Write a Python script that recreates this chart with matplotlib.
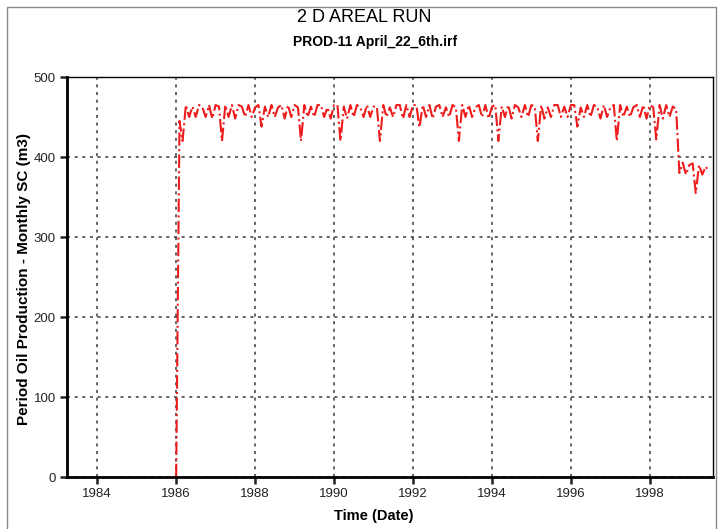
import pandas as pd
import numpy as np
import matplotlib
matplotlib.use("Agg")
import matplotlib.pyplot as plt
import matplotlib.dates as mdates
from matplotlib.patches import Rectangle
from datetime import datetime

# ----- D A T A ----- ----- ----- ----- ----- ----- ----- -----
# monthly oil volume (m3), value for each month plotted at start of next month
start_value = [0]
prod_1986 = [445, 420, 465, 450, 463, 450, 465, 462, 450, 465, 448, 465]
prod_1987 = [463, 420, 465, 450, 465, 448, 465, 463, 450, 465, 450, 462]
prod_1988 = [465, 438, 463, 450, 465, 450, 462, 465, 448, 465, 450, 465]
prod_1989 = [462, 420, 465, 450, 463, 450, 465, 465, 450, 462, 448, 465]
prod_1990 = [465, 420, 463, 448, 465, 450, 465, 462, 450, 465, 450, 463]
prod_1991 = [463, 420, 465, 450, 462, 450, 465, 465, 448, 465, 450, 465]
prod_1992 = [465, 437, 465, 450, 465, 448, 463, 465, 450, 462, 450, 465]
prod_1993 = [462, 420, 465, 450, 465, 450, 462, 465, 450, 465, 448, 463]
prod_1994 = [465, 420, 463, 450, 465, 448, 465, 462, 450, 465, 450, 465]
prod_1995 = [463, 420, 465, 448, 462, 450, 465, 465, 450, 463, 450, 465]
prod_1996 = [465, 438, 462, 450, 465, 450, 465, 463, 448, 465, 450, 462]
prod_1997 = [465, 420, 465, 450, 463, 450, 462, 465, 450, 465, 448, 465]
prod_1998 = [462, 422, 465, 448, 465, 450, 463, 460, 380, 393, 378, 390]
prod_1999 = [392, 355, 390, 378, 388, 382]

year_ticks = [1984, 1986, 1988, 1990, 1992, 1994, 1996, 1998]
y_ticks = [0, 100, 200, 300, 400, 500]

# ----- S E T T I N G S ----- ----- ----- ----- ----- ----- -----
plt.rcParams["font.family"] = ["Liberation Sans", "DejaVu Sans"]
_red, _grid = "#ee1c1c", "#3a3a3a"

values = (start_value + prod_1986 + prod_1987 + prod_1988 + prod_1989 + prod_1990
          + prod_1991 + prod_1992 + prod_1993 + prod_1994 + prod_1995 + prod_1996
          + prod_1997 + prod_1998 + prod_1999)
dates = pd.date_range("1986-01-01", periods=len(values), freq="MS")

fig = plt.figure(figsize=(7.19, 5.29), dpi=100)
ax = fig.add_axes([67 / 719, 1 - 477 / 529, (713 - 67) / 719, (477 - 77) / 529])

# outer frame around the whole chart
fig.patches.append(Rectangle((7 / 719, -0.05), 709 / 719, 1.05 - 7 / 529,
                             transform=fig.transFigure, fill=False,
                             edgecolor="#8a8a8a", linewidth=1.0))

ax.plot(dates, values, color=_red, linestyle="-.", linewidth=1.5)

ax.set_xlim(datetime(1983, 3, 28), datetime(1999, 8, 8))
ax.set_ylim(0, 500)
ax.set_xticks([datetime(y, 1, 1) for y in year_ticks])
ax.xaxis.set_major_formatter(mdates.DateFormatter("%Y"))
ax.set_yticks(y_ticks)

ax.grid(True, color=_grid, linestyle=(0, (2, 3)), linewidth=1.1)
ax.set_axisbelow(True)

for side in ["left", "bottom"]:
    ax.spines[side].set_linewidth(2.0)
for side in ["top", "right"]:
    ax.spines[side].set_linewidth(1.0)

ax.tick_params(direction="out", length=5, width=1.8, labelsize=9.5,
               colors="#222222", pad=3)

fig.text(0.507, 0.966, "2 D AREAL RUN", ha="center", va="center", fontsize=13)
fig.text(0.522, 0.921, "PROD-11 April_22_6th.irf", ha="center", va="center",
         fontsize=10, fontweight="bold")
fig.text(0.52, 0.024, "Time (Date)", ha="center", va="center",
         fontsize=10.5, fontweight="bold")
fig.text(24 / 719, 1 - 279 / 529, "Period Oil Production - Monthly SC (m3)",
         ha="center", va="center", rotation=90, fontsize=11, fontweight="bold")

fig.savefig("out.png", dpi=100)
